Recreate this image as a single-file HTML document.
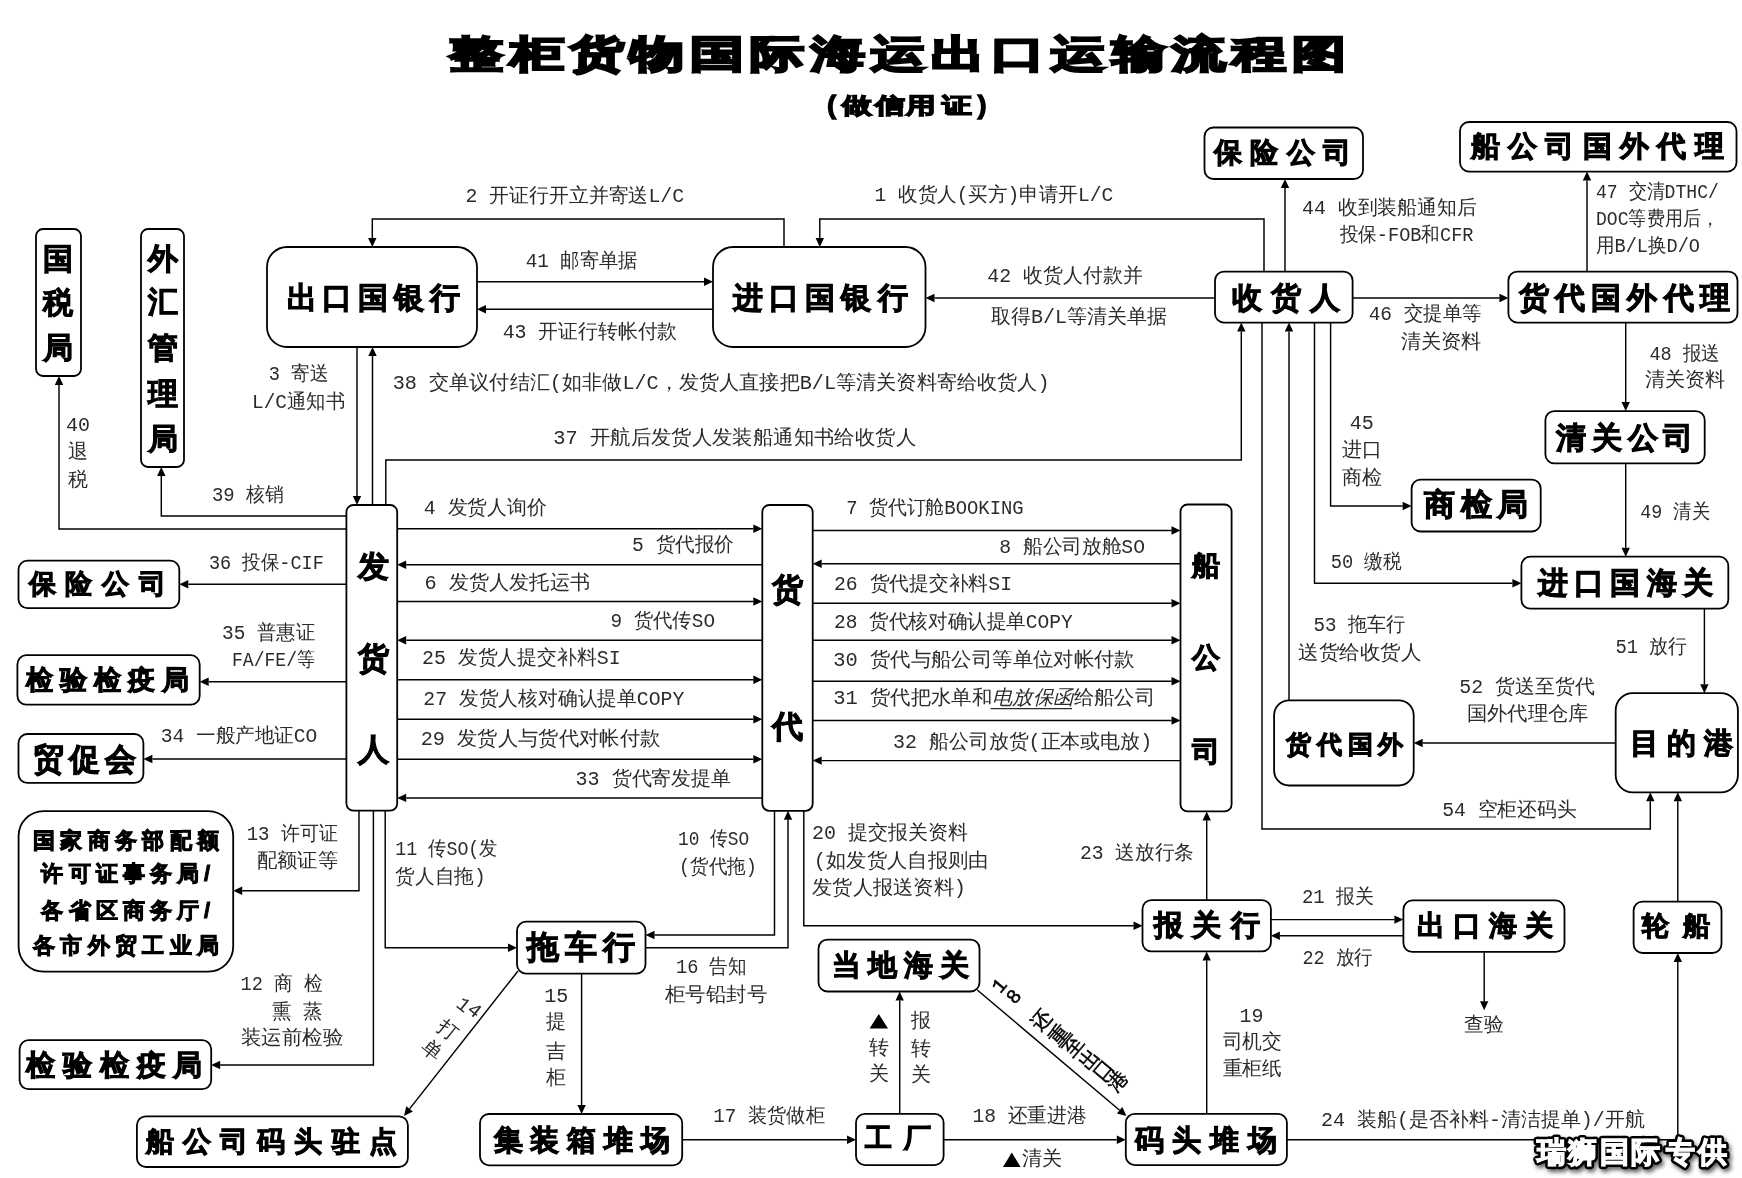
<!DOCTYPE html>
<html><head><meta charset="utf-8"><title>整柜货物国际海运出口运输流程图</title>
<style>
html,body{margin:0;padding:0;background:#fff;width:1742px;height:1178px;overflow:hidden}
svg{display:block;will-change:transform}
.box{fill:#fff;stroke:#000;stroke-width:1.8}
.ln{fill:none;stroke:#000;stroke-width:1.45;stroke-linejoin:miter;stroke-linecap:butt}
.ah{fill:#000;stroke:none}
.bx{font-family:"Liberation Sans",sans-serif;font-weight:bold;fill:#000;stroke:#000;stroke-width:1.0;text-anchor:middle;dominant-baseline:central}
.lb{font-family:"Liberation Mono",monospace;font-size:20px;fill:#2b2b2b;dominant-baseline:central}
.tt{font-family:"Liberation Sans",sans-serif;font-weight:bold;fill:#000;stroke:#000;stroke-width:0.8;dominant-baseline:central}
.wm{font-family:"Liberation Sans",sans-serif;font-weight:bold;fill:#fff;stroke:#fff;stroke-width:1.2;dominant-baseline:central}
.wmo{font-family:"Liberation Sans",sans-serif;font-weight:bold;fill:#000;stroke:#000;stroke-width:6.5;stroke-linejoin:round;dominant-baseline:central}
</style></head><body>
<svg width="1742" height="1178" viewBox="0 0 1742 1178">
<defs><filter id="wmf" x="-10%" y="-40%" width="125%" height="190%">
<feGaussianBlur in="SourceAlpha" stdDeviation="2" result="b"/>
<feOffset in="b" dx="1.5" dy="2.5" result="o"/>
<feFlood flood-color="#000" flood-opacity="0.6"/><feComposite in2="o" operator="in" result="sh"/>
<feMerge><feMergeNode in="sh"/><feMergeNode in="SourceGraphic"/></feMerge>
</filter></defs>
<rect x="36" y="229" width="45.0" height="147.0" rx="7" ry="7" class="box"/>
<text x="58" y="258.5" class="bx" font-size="30">国</text>
<text x="58" y="302" class="bx" font-size="30">税</text>
<text x="58" y="347.7" class="bx" font-size="30">局</text>
<rect x="141" y="229" width="43.0" height="238.0" rx="7" ry="7" class="box"/>
<text x="163" y="258" class="bx" font-size="30">外</text>
<text x="163" y="301.3" class="bx" font-size="30">汇</text>
<text x="163" y="347.7" class="bx" font-size="30">管</text>
<text x="163" y="393" class="bx" font-size="30">理</text>
<text x="163" y="438" class="bx" font-size="30">局</text>
<rect x="267" y="247" width="210.0" height="100.0" rx="20" ry="20" class="box"/>
<text x="301.5" y="297.0" class="bx" font-size="30">出</text><text x="337.2" y="297.0" class="bx" font-size="30">口</text><text x="373.0" y="297.0" class="bx" font-size="30">国</text><text x="408.8" y="297.0" class="bx" font-size="30">银</text><text x="444.5" y="297.0" class="bx" font-size="30">行</text>
<rect x="713" y="247" width="212.5" height="100.0" rx="20" ry="20" class="box"/>
<text x="747.5" y="297.0" class="bx" font-size="30">进</text><text x="783.8" y="297.0" class="bx" font-size="30">口</text><text x="820.0" y="297.0" class="bx" font-size="30">国</text><text x="856.2" y="297.0" class="bx" font-size="30">银</text><text x="892.5" y="297.0" class="bx" font-size="30">行</text>
<rect x="1204.5" y="127.5" width="158.5" height="51.5" rx="9" ry="9" class="box"/>
<text x="1227.6" y="152.4" class="bx" font-size="28">保</text><text x="1264.2" y="152.4" class="bx" font-size="28">险</text><text x="1300.8" y="152.4" class="bx" font-size="28">公</text><text x="1337.4" y="152.4" class="bx" font-size="28">司</text>
<rect x="1460" y="122" width="276.5" height="49.6" rx="9" ry="9" class="box"/>
<text x="1485.0" y="146.0" class="bx" font-size="29">船</text><text x="1522.4" y="146.0" class="bx" font-size="29">公</text><text x="1559.7" y="146.0" class="bx" font-size="29">司</text><text x="1597.0" y="146.0" class="bx" font-size="29">国</text><text x="1634.3" y="146.0" class="bx" font-size="29">外</text><text x="1671.6" y="146.0" class="bx" font-size="29">代</text><text x="1709.0" y="146.0" class="bx" font-size="29">理</text>
<rect x="1215" y="271.6" width="137.6" height="51.0" rx="9" ry="9" class="box"/>
<text x="1246.5" y="297.0" class="bx" font-size="30">收</text><text x="1285.5" y="297.0" class="bx" font-size="30">货</text><text x="1324.5" y="297.0" class="bx" font-size="30">人</text>
<rect x="1508.4" y="271.6" width="229.1" height="51.0" rx="9" ry="9" class="box"/>
<text x="1533.5" y="297.0" class="bx" font-size="30">货</text><text x="1569.8" y="297.0" class="bx" font-size="30">代</text><text x="1606.1" y="297.0" class="bx" font-size="30">国</text><text x="1642.3" y="297.0" class="bx" font-size="30">外</text><text x="1678.6" y="297.0" class="bx" font-size="30">代</text><text x="1714.9" y="297.0" class="bx" font-size="30">理</text>
<rect x="1545.4" y="411.1" width="159.3" height="52.3" rx="9" ry="9" class="box"/>
<text x="1571.3" y="437.5" class="bx" font-size="30">清</text><text x="1606.9" y="437.5" class="bx" font-size="30">关</text><text x="1642.5" y="437.5" class="bx" font-size="30">公</text><text x="1678.1" y="437.5" class="bx" font-size="30">司</text>
<rect x="1411.6" y="479.6" width="129.1" height="51.9" rx="9" ry="9" class="box"/>
<text x="1439.5" y="504.5" class="bx" font-size="31">商</text><text x="1476.2" y="504.5" class="bx" font-size="31">检</text><text x="1512.8" y="504.5" class="bx" font-size="31">局</text>
<rect x="1521.4" y="556.7" width="206.9" height="52.0" rx="9" ry="9" class="box"/>
<text x="1552.5" y="582.3" class="bx" font-size="30">进</text><text x="1589.0" y="582.3" class="bx" font-size="30">口</text><text x="1625.4" y="582.3" class="bx" font-size="30">国</text><text x="1661.8" y="582.3" class="bx" font-size="30">海</text><text x="1698.3" y="582.3" class="bx" font-size="30">关</text>
<rect x="1615.7" y="693.2" width="122.2" height="99.1" rx="17" ry="17" class="box"/>
<text x="1644.0" y="743.0" class="bx" font-size="29">目</text><text x="1681.0" y="743.0" class="bx" font-size="29">的</text><text x="1718.0" y="743.0" class="bx" font-size="29">港</text>
<rect x="1274.1" y="700.3" width="139.6" height="85.2" rx="15" ry="15" class="box"/>
<text x="1298.5" y="743.8" class="bx" font-size="25">货</text><text x="1329.3" y="743.8" class="bx" font-size="25">代</text><text x="1360.0" y="743.8" class="bx" font-size="25">国</text><text x="1390.8" y="743.8" class="bx" font-size="25">外</text>
<rect x="346.4" y="505" width="50.8" height="305.6" rx="7" ry="7" class="box"/>
<text x="373" y="566" class="bx" font-size="31">发</text>
<text x="373" y="658" class="bx" font-size="31">货</text>
<text x="373" y="749" class="bx" font-size="31">人</text>
<rect x="762.3" y="505" width="50.4" height="305.8" rx="7" ry="7" class="box"/>
<text x="787" y="589.5" class="bx" font-size="31">货</text>
<text x="787" y="726.5" class="bx" font-size="31">代</text>
<rect x="1180.5" y="504.5" width="51.1" height="306.9" rx="7" ry="7" class="box"/>
<text x="1206.3" y="565.8" class="bx" font-size="28">船</text>
<text x="1206.3" y="657.5" class="bx" font-size="28">公</text>
<text x="1206.3" y="751.4" class="bx" font-size="28">司</text>
<rect x="18.5" y="560.7" width="160.8" height="47.5" rx="9" ry="9" class="box"/>
<text x="42.1" y="584.2" class="bx" font-size="27">保</text><text x="78.8" y="584.2" class="bx" font-size="27">险</text><text x="115.6" y="584.2" class="bx" font-size="27">公</text><text x="152.2" y="584.2" class="bx" font-size="27">司</text>
<rect x="17.4" y="655.2" width="182.3" height="49.5" rx="9" ry="9" class="box"/>
<text x="39.1" y="680.4" class="bx" font-size="27">检</text><text x="73.2" y="680.4" class="bx" font-size="27">验</text><text x="107.2" y="680.4" class="bx" font-size="27">检</text><text x="141.2" y="680.4" class="bx" font-size="27">疫</text><text x="175.2" y="680.4" class="bx" font-size="27">局</text>
<rect x="18.5" y="734" width="124.9" height="48.9" rx="9" ry="9" class="box"/>
<text x="48.0" y="759.0" class="bx" font-size="31">贸</text><text x="84.2" y="759.0" class="bx" font-size="31">促</text><text x="120.5" y="759.0" class="bx" font-size="31">会</text>
<rect x="18.6" y="811.1" width="214.6" height="160.5" rx="25" ry="25" class="box"/>
<rect x="19.6" y="1040.2" width="191.6" height="49.0" rx="9" ry="9" class="box"/>
<text x="40.0" y="1064.7" class="bx" font-size="29">检</text><text x="77.0" y="1064.7" class="bx" font-size="29">验</text><text x="114.0" y="1064.7" class="bx" font-size="29">检</text><text x="151.0" y="1064.7" class="bx" font-size="29">疫</text><text x="187.9" y="1064.7" class="bx" font-size="29">局</text>
<rect x="136.9" y="1116.3" width="271.0" height="50.7" rx="9" ry="9" class="box"/>
<text x="159.6" y="1141.5" class="bx" font-size="28">船</text><text x="196.8" y="1141.5" class="bx" font-size="28">公</text><text x="234.0" y="1141.5" class="bx" font-size="28">司</text><text x="271.2" y="1141.5" class="bx" font-size="28">码</text><text x="308.4" y="1141.5" class="bx" font-size="28">头</text><text x="345.6" y="1141.5" class="bx" font-size="28">驻</text><text x="382.8" y="1141.5" class="bx" font-size="28">点</text>
<rect x="517" y="921.7" width="128.5" height="51.9" rx="9" ry="9" class="box"/>
<text x="543.4" y="947.0" class="bx" font-size="32">拖</text><text x="581.0" y="947.0" class="bx" font-size="32">车</text><text x="618.6" y="947.0" class="bx" font-size="32">行</text>
<rect x="818.5" y="939.6" width="161.0" height="51.9" rx="9" ry="9" class="box"/>
<text x="846.0" y="965.2" class="bx" font-size="29">当</text><text x="882.2" y="965.2" class="bx" font-size="29">地</text><text x="918.5" y="965.2" class="bx" font-size="29">海</text><text x="954.6" y="965.2" class="bx" font-size="29">关</text>
<rect x="480" y="1114" width="202.2" height="51.3" rx="9" ry="9" class="box"/>
<text x="508.1" y="1139.8" class="bx" font-size="29">集</text><text x="544.9" y="1139.8" class="bx" font-size="29">装</text><text x="581.6" y="1139.8" class="bx" font-size="29">箱</text><text x="618.5" y="1139.8" class="bx" font-size="29">堆</text><text x="655.2" y="1139.8" class="bx" font-size="29">场</text>
<rect x="856" y="1113.8" width="87.6" height="51.3" rx="9" ry="9" class="box"/>
<text x="878.8" y="1138.4" class="bx" font-size="27">工</text><text x="917.1" y="1138.4" class="bx" font-size="27">厂</text>
<rect x="1125.8" y="1113.8" width="161.1" height="51.3" rx="9" ry="9" class="box"/>
<text x="1149.0" y="1140.0" class="bx" font-size="29">码</text><text x="1186.9" y="1140.0" class="bx" font-size="29">头</text><text x="1224.8" y="1140.0" class="bx" font-size="29">堆</text><text x="1262.7" y="1140.0" class="bx" font-size="29">场</text>
<rect x="1142.5" y="900.1" width="128.4" height="51.3" rx="9" ry="9" class="box"/>
<text x="1168.0" y="925.1" class="bx" font-size="29">报</text><text x="1206.5" y="925.1" class="bx" font-size="29">关</text><text x="1245.0" y="925.1" class="bx" font-size="29">行</text>
<rect x="1403.4" y="900.4" width="161.1" height="51.5" rx="9" ry="9" class="box"/>
<text x="1430.6" y="925.2" class="bx" font-size="28">出</text><text x="1466.9" y="925.2" class="bx" font-size="28">口</text><text x="1503.1" y="925.2" class="bx" font-size="28">海</text><text x="1539.4" y="925.2" class="bx" font-size="28">关</text>
<rect x="1633.6" y="901.6" width="87.9" height="51.4" rx="9" ry="9" class="box"/>
<text x="1655.2" y="926.0" class="bx" font-size="27">轮</text><text x="1696.9" y="926.0" class="bx" font-size="27">船</text>
<text x="43.7" y="840.0" class="bx" font-size="22">国</text><text x="71.1" y="840.0" class="bx" font-size="22">家</text><text x="98.5" y="840.0" class="bx" font-size="22">商</text><text x="125.9" y="840.0" class="bx" font-size="22">务</text><text x="153.3" y="840.0" class="bx" font-size="22">部</text><text x="180.7" y="840.0" class="bx" font-size="22">配</text><text x="208.1" y="840.0" class="bx" font-size="22">额</text>
<text x="43.7" y="945.6" class="bx" font-size="22">各</text><text x="71.1" y="945.6" class="bx" font-size="22">市</text><text x="98.5" y="945.6" class="bx" font-size="22">外</text><text x="125.9" y="945.6" class="bx" font-size="22">贸</text><text x="153.3" y="945.6" class="bx" font-size="22">工</text><text x="180.7" y="945.6" class="bx" font-size="22">业</text><text x="208.1" y="945.6" class="bx" font-size="22">局</text>
<text x="52.4" y="873.5" class="bx" font-size="22">许</text>
<text x="79.5" y="873.5" class="bx" font-size="22">可</text>
<text x="106.7" y="873.5" class="bx" font-size="22">证</text>
<text x="133.8" y="873.5" class="bx" font-size="22">事</text>
<text x="161.0" y="873.5" class="bx" font-size="22">务</text>
<text x="188.2" y="873.5" class="bx" font-size="22">局</text>
<text x="207.0" y="873.5" class="bx" font-size="22">/</text>
<text x="52.4" y="910" class="bx" font-size="22">各</text>
<text x="79.5" y="910" class="bx" font-size="22">省</text>
<text x="106.7" y="910" class="bx" font-size="22">区</text>
<text x="133.8" y="910" class="bx" font-size="22">商</text>
<text x="161.0" y="910" class="bx" font-size="22">务</text>
<text x="188.2" y="910" class="bx" font-size="22">厅</text>
<text x="207.0" y="910" class="bx" font-size="22">/</text>
<polyline points="784.0,247.0 784.0,219.0 372.3,219.0 372.3,238.0" class="ln"/>
<polygon points="372.3,247.0 368.1,238.0 376.5,238.0" class="ah"/>
<polyline points="1264.0,272.0 1264.0,219.0 819.8,219.0 819.8,238.0" class="ln"/>
<polygon points="819.8,247.0 815.6,238.0 824.0,238.0" class="ah"/>
<polyline points="477.0,281.8 704.0,281.8" class="ln"/>
<polygon points="713.0,281.8 704.0,286.0 704.0,277.6" class="ah"/>
<polyline points="713.0,309.3 486.0,309.3" class="ln"/>
<polygon points="477.0,309.3 486.0,305.1 486.0,313.5" class="ah"/>
<polyline points="1215.0,298.0 934.5,298.0" class="ln"/>
<polygon points="925.5,298.0 934.5,293.8 934.5,302.2" class="ah"/>
<polyline points="1352.6,298.0 1499.4,298.0" class="ln"/>
<polygon points="1508.4,298.0 1499.4,302.2 1499.4,293.8" class="ah"/>
<polyline points="1285.0,271.6 1285.0,188.0" class="ln"/>
<polygon points="1285.0,179.0 1289.2,188.0 1280.8,188.0" class="ah"/>
<polyline points="1587.0,271.6 1587.0,180.6" class="ln"/>
<polygon points="1587.0,171.6 1591.2,180.6 1582.8,180.6" class="ah"/>
<polyline points="1625.7,322.6 1625.7,402.1" class="ln"/>
<polygon points="1625.7,411.1 1621.5,402.1 1629.9,402.1" class="ah"/>
<polyline points="1625.7,463.4 1625.7,547.7" class="ln"/>
<polygon points="1625.7,556.7 1621.5,547.7 1629.9,547.7" class="ah"/>
<polyline points="1330.6,322.6 1330.6,506.0 1402.6,506.0" class="ln"/>
<polygon points="1411.6,506.0 1402.6,510.2 1402.6,501.8" class="ah"/>
<polyline points="1314.5,322.6 1314.5,583.2 1512.4,583.2" class="ln"/>
<polygon points="1521.4,583.2 1512.4,587.4 1512.4,579.0" class="ah"/>
<polyline points="1289.0,700.3 1289.0,331.6" class="ln"/>
<polygon points="1289.0,322.6 1293.2,331.6 1284.8,331.6" class="ah"/>
<polyline points="1262.0,322.6 1262.0,829.0 1650.3,829.0 1650.3,801.3" class="ln"/>
<polygon points="1650.3,792.3 1654.5,801.3 1646.1,801.3" class="ah"/>
<polyline points="385.8,505.0 385.8,460.0 1241.3,460.0 1241.3,331.6" class="ln"/>
<polygon points="1241.3,322.6 1245.5,331.6 1237.1,331.6" class="ah"/>
<polyline points="1704.4,608.7 1704.4,684.2" class="ln"/>
<polygon points="1704.4,693.2 1700.2,684.2 1708.6,684.2" class="ah"/>
<polyline points="1615.7,743.0 1422.7,743.0" class="ln"/>
<polygon points="1413.7,743.0 1422.7,738.8 1422.7,747.2" class="ah"/>
<polyline points="1677.8,901.6 1677.8,801.3" class="ln"/>
<polygon points="1677.8,792.3 1682.0,801.3 1673.6,801.3" class="ah"/>
<polyline points="1286.9,1139.8 1677.8,1139.8 1677.8,962.0" class="ln"/>
<polygon points="1677.8,953.0 1682.0,962.0 1673.6,962.0" class="ah"/>
<polyline points="357.0,347.0 357.0,496.0" class="ln"/>
<polygon points="357.0,505.0 352.8,496.0 361.2,496.0" class="ah"/>
<polyline points="372.5,505.0 372.5,356.0" class="ln"/>
<polygon points="372.5,347.0 376.7,356.0 368.3,356.0" class="ah"/>
<polyline points="346.4,529.0 59.0,529.0 59.0,385.0" class="ln"/>
<polygon points="59.0,376.0 63.2,385.0 54.8,385.0" class="ah"/>
<polyline points="346.4,516.0 161.3,516.0 161.3,476.0" class="ln"/>
<polygon points="161.3,467.0 165.5,476.0 157.1,476.0" class="ah"/>
<polyline points="346.4,584.3 188.3,584.3" class="ln"/>
<polygon points="179.3,584.3 188.3,580.1 188.3,588.5" class="ah"/>
<polyline points="346.4,681.8 208.7,681.8" class="ln"/>
<polygon points="199.7,681.8 208.7,677.6 208.7,686.0" class="ah"/>
<polyline points="346.4,759.0 152.4,759.0" class="ln"/>
<polygon points="143.4,759.0 152.4,754.8 152.4,763.2" class="ah"/>
<polyline points="359.0,810.6 359.0,890.8 242.2,890.8" class="ln"/>
<polygon points="233.2,890.8 242.2,886.6 242.2,895.0" class="ah"/>
<polyline points="373.4,810.6 373.4,1065.0 220.2,1065.0" class="ln"/>
<polygon points="211.2,1065.0 220.2,1060.8 220.2,1069.2" class="ah"/>
<polyline points="385.2,810.6 385.2,947.8 508.0,947.8" class="ln"/>
<polygon points="517.0,947.8 508.0,952.0 508.0,943.6" class="ah"/>
<polyline points="397.2,528.8 753.3,528.8" class="ln"/>
<polygon points="762.3,528.8 753.3,533.0 753.3,524.6" class="ah"/>
<polyline points="762.3,564.8 406.2,564.8" class="ln"/>
<polygon points="397.2,564.8 406.2,560.6 406.2,569.0" class="ah"/>
<polyline points="397.2,601.5 753.3,601.5" class="ln"/>
<polygon points="762.3,601.5 753.3,605.7 753.3,597.3" class="ah"/>
<polyline points="762.3,640.2 406.2,640.2" class="ln"/>
<polygon points="397.2,640.2 406.2,636.0 406.2,644.4" class="ah"/>
<polyline points="397.2,679.7 753.3,679.7" class="ln"/>
<polygon points="762.3,679.7 753.3,683.9 753.3,675.5" class="ah"/>
<polyline points="397.2,719.3 753.3,719.3" class="ln"/>
<polygon points="762.3,719.3 753.3,723.5 753.3,715.1" class="ah"/>
<polyline points="397.2,759.2 753.3,759.2" class="ln"/>
<polygon points="762.3,759.2 753.3,763.4 753.3,755.0" class="ah"/>
<polyline points="762.3,797.9 406.2,797.9" class="ln"/>
<polygon points="397.2,797.9 406.2,793.7 406.2,802.1" class="ah"/>
<polyline points="812.7,530.5 1171.5,530.5" class="ln"/>
<polygon points="1180.5,530.5 1171.5,534.7 1171.5,526.3" class="ah"/>
<polyline points="1180.5,563.7 821.7,563.7" class="ln"/>
<polygon points="812.7,563.7 821.7,559.5 821.7,567.9" class="ah"/>
<polyline points="812.7,603.3 1171.5,603.3" class="ln"/>
<polygon points="1180.5,603.3 1171.5,607.5 1171.5,599.1" class="ah"/>
<polyline points="812.7,640.2 1171.5,640.2" class="ln"/>
<polygon points="1180.5,640.2 1171.5,644.4 1171.5,636.0" class="ah"/>
<polyline points="812.7,681.2 1171.5,681.2" class="ln"/>
<polygon points="1180.5,681.2 1171.5,685.4 1171.5,677.0" class="ah"/>
<polyline points="812.7,720.5 1171.5,720.5" class="ln"/>
<polygon points="1180.5,720.5 1171.5,724.7 1171.5,716.3" class="ah"/>
<polyline points="1180.5,760.6 821.7,760.6" class="ln"/>
<polygon points="812.7,760.6 821.7,756.4 821.7,764.8" class="ah"/>
<polyline points="774.5,810.8 774.5,935.0 654.5,935.0" class="ln"/>
<polygon points="645.5,935.0 654.5,930.8 654.5,939.2" class="ah"/>
<polyline points="645.5,947.8 788.0,947.8 788.0,819.8" class="ln"/>
<polygon points="788.0,810.8 792.2,819.8 783.8,819.8" class="ah"/>
<polyline points="803.8,810.8 803.8,925.8 1133.5,925.8" class="ln"/>
<polygon points="1142.5,925.8 1133.5,930.0 1133.5,921.6" class="ah"/>
<polyline points="1206.7,900.1 1206.7,820.4" class="ln"/>
<polygon points="1206.7,811.4 1210.9,820.4 1202.5,820.4" class="ah"/>
<polyline points="1206.7,1113.8 1206.7,960.4" class="ln"/>
<polygon points="1206.7,951.4 1210.9,960.4 1202.5,960.4" class="ah"/>
<polyline points="1270.9,919.6 1394.4,919.6" class="ln"/>
<polygon points="1403.4,919.6 1394.4,923.8 1394.4,915.4" class="ah"/>
<polyline points="1403.4,935.7 1279.9,935.7" class="ln"/>
<polygon points="1270.9,935.7 1279.9,931.5 1279.9,939.9" class="ah"/>
<polyline points="1484.2,951.9 1484.2,1001.3" class="ln"/>
<polygon points="1484.2,1010.3 1480.0,1001.3 1488.4,1001.3" class="ah"/>
<polyline points="581.6,973.6 581.6,1105.0" class="ln"/>
<polygon points="581.6,1114.0 577.4,1105.0 585.8,1105.0" class="ah"/>
<polyline points="518.0,971.0 409.6,1108.9" class="ln"/>
<polygon points="404.0,1116.0 406.3,1106.3 412.9,1111.5" class="ah"/>
<polyline points="682.2,1139.8 847.0,1139.8" class="ln"/>
<polygon points="856.0,1139.8 847.0,1144.0 847.0,1135.6" class="ah"/>
<polyline points="943.6,1139.8 1116.8,1139.8" class="ln"/>
<polygon points="1125.8,1139.8 1116.8,1144.0 1116.8,1135.6" class="ah"/>
<polyline points="899.7,1113.8 899.7,1000.5" class="ln"/>
<polygon points="899.7,991.5 903.9,1000.5 895.5,1000.5" class="ah"/>
<polyline points="977.3,990.0 1119.6,1110.2" class="ln"/>
<polygon points="1126.5,1116.0 1116.9,1113.4 1122.3,1107.0" class="ah"/>
<text x="465.4" y="196" class="lb" textLength="218.8" lengthAdjust="spacingAndGlyphs">2 开证行开立并寄送L/C</text>
<text x="874.5" y="195" class="lb" textLength="238.7" lengthAdjust="spacingAndGlyphs">1 收货人(买方)申请开L/C</text>
<text x="525.7" y="261.8" class="lb" textLength="112.0" lengthAdjust="spacingAndGlyphs">41 邮寄单据</text>
<text x="502.7" y="332.4" class="lb" textLength="174.6" lengthAdjust="spacingAndGlyphs">43 开证行转帐付款</text>
<text x="987.2" y="276" class="lb" textLength="155.3" lengthAdjust="spacingAndGlyphs">42 收货人付款并</text>
<text x="991" y="317.4" class="lb" textLength="175.7" lengthAdjust="spacingAndGlyphs">取得B/L等清关单据</text>
<text x="1302" y="208" class="lb" textLength="174.8" lengthAdjust="spacingAndGlyphs">44 收到装船通知后</text>
<text x="1339.7" y="235.5" class="lb" textLength="133.8" lengthAdjust="spacingAndGlyphs">投保-FOB和CFR</text>
<text x="1596" y="192" class="lb" textLength="122.8" lengthAdjust="spacingAndGlyphs">47 交清DTHC/</text>
<text x="1596" y="219.4" class="lb" textLength="122.7" lengthAdjust="spacingAndGlyphs">DOC等费用后，</text>
<text x="1596" y="246.8" class="lb" textLength="104.0" lengthAdjust="spacingAndGlyphs">用B/L换D/O</text>
<text x="1368.7" y="314.5" class="lb" textLength="112.9" lengthAdjust="spacingAndGlyphs">46 交提单等</text>
<text x="1401" y="342" class="lb" textLength="80.6" lengthAdjust="spacingAndGlyphs">清关资料</text>
<text x="1649.4" y="354.8" class="lb" textLength="70.6" lengthAdjust="spacingAndGlyphs">48 报送</text>
<text x="1644.5" y="380.6" class="lb" textLength="80.5" lengthAdjust="spacingAndGlyphs">清关资料</text>
<text x="268.7" y="374.4" class="lb" textLength="59.8" lengthAdjust="spacingAndGlyphs">3 寄送</text>
<text x="252" y="402.4" class="lb" textLength="93.0" lengthAdjust="spacingAndGlyphs">L/C通知书</text>
<text x="392.7" y="383.3" class="lb" textLength="656.9" lengthAdjust="spacingAndGlyphs">38 交单议付结汇(如非做L/C，发货人直接把B/L等清关资料寄给收货人)</text>
<text x="553.2" y="438" class="lb" textLength="362.7" lengthAdjust="spacingAndGlyphs">37 开航后发货人发装船通知书给收货人</text>
<text x="211.9" y="495" class="lb" textLength="72.0" lengthAdjust="spacingAndGlyphs">39 核销</text>
<text x="209" y="563" class="lb" textLength="114.8" lengthAdjust="spacingAndGlyphs">36 投保-CIF</text>
<text x="222" y="633.5" class="lb" textLength="93.0" lengthAdjust="spacingAndGlyphs">35 普惠证</text>
<text x="232" y="660" class="lb" textLength="83.0" lengthAdjust="spacingAndGlyphs">FA/FE/等</text>
<text x="160.8" y="736.7" class="lb" textLength="156.5" lengthAdjust="spacingAndGlyphs">34 一般产地证CO</text>
<text x="246.7" y="834" class="lb" textLength="91.3" lengthAdjust="spacingAndGlyphs">13 许可证</text>
<text x="256.8" y="861" class="lb" textLength="81.2" lengthAdjust="spacingAndGlyphs">配额证等</text>
<text x="240.6" y="984.5" class="lb" textLength="82.1" lengthAdjust="spacingAndGlyphs">12 商 检</text>
<text x="272" y="1012" class="lb" textLength="50.7" lengthAdjust="spacingAndGlyphs">熏 蒸</text>
<text x="240.6" y="1038.5" class="lb" textLength="102.4" lengthAdjust="spacingAndGlyphs">装运前检验</text>
<text x="423.8" y="508" class="lb" textLength="123.0" lengthAdjust="spacingAndGlyphs">4 发货人询价</text>
<text x="632" y="545" class="lb" textLength="102.0" lengthAdjust="spacingAndGlyphs">5 货代报价</text>
<text x="424.6" y="583.2" class="lb" textLength="165.4" lengthAdjust="spacingAndGlyphs">6 发货人发托运书</text>
<text x="610.5" y="621.4" class="lb" textLength="104.5" lengthAdjust="spacingAndGlyphs">9 货代传SO</text>
<text x="422" y="658" class="lb" textLength="198.6" lengthAdjust="spacingAndGlyphs">25 发货人提交补料SI</text>
<text x="423.3" y="699.8" class="lb" textLength="261.0" lengthAdjust="spacingAndGlyphs">27 发货人核对确认提单COPY</text>
<text x="420.7" y="739.5" class="lb" textLength="239.4" lengthAdjust="spacingAndGlyphs">29 发货人与货代对帐付款</text>
<text x="575.6" y="779.5" class="lb" textLength="155.8" lengthAdjust="spacingAndGlyphs">33 货代寄发提单</text>
<text x="846.2" y="508.3" class="lb" textLength="177.5" lengthAdjust="spacingAndGlyphs">7 货代订舱BOOKING</text>
<text x="999.2" y="547" class="lb" textLength="145.8" lengthAdjust="spacingAndGlyphs">8 船公司放舱SO</text>
<text x="834" y="584" class="lb" textLength="178.0" lengthAdjust="spacingAndGlyphs">26 货代提交补料SI</text>
<text x="834" y="622" class="lb" textLength="238.8" lengthAdjust="spacingAndGlyphs">28 货代核对确认提单COPY</text>
<text x="833.2" y="660.4" class="lb" textLength="301.7" lengthAdjust="spacingAndGlyphs">30 货代与船公司等单位对帐付款</text>
<text x="833.2" y="698" class="lb" textLength="321.8" lengthAdjust="spacingAndGlyphs">31 货代把水单和<tspan style="font-style:italic">电放保函</tspan>给船公司</text>
<text x="893" y="742.7" class="lb" textLength="259.2" lengthAdjust="spacingAndGlyphs">32 船公司放货(正本或电放)</text>
<text x="395.3" y="849.6" class="lb" textLength="102.3" lengthAdjust="spacingAndGlyphs">11 传SO(发</text>
<text x="395.3" y="877.6" class="lb" textLength="90.4" lengthAdjust="spacingAndGlyphs">货人自拖)</text>
<text x="678" y="839.4" class="lb" textLength="71.2" lengthAdjust="spacingAndGlyphs">10 传SO</text>
<text x="679" y="867.4" class="lb" textLength="77.9" lengthAdjust="spacingAndGlyphs">(货代拖)</text>
<text x="676" y="967.3" class="lb" textLength="70.7" lengthAdjust="spacingAndGlyphs">16 告知</text>
<text x="664.5" y="995" class="lb" textLength="102.5" lengthAdjust="spacingAndGlyphs">柜号铅封号</text>
<text x="713.3" y="1116.5" class="lb" textLength="111.7" lengthAdjust="spacingAndGlyphs">17 装货做柜</text>
<text x="812" y="833.7" class="lb" textLength="155.7" lengthAdjust="spacingAndGlyphs">20 提交报关资料</text>
<text x="813.7" y="861.6" class="lb" textLength="174.8" lengthAdjust="spacingAndGlyphs">(如发货人自报则由</text>
<text x="812" y="888.2" class="lb" textLength="154.0" lengthAdjust="spacingAndGlyphs">发货人报送资料)</text>
<text x="1080" y="853" class="lb" textLength="113.9" lengthAdjust="spacingAndGlyphs">23 送放行条</text>
<text x="1222.7" y="1042.2" class="lb" textLength="59.3" lengthAdjust="spacingAndGlyphs">司机交</text>
<text x="1222.7" y="1069.5" class="lb" textLength="59.3" lengthAdjust="spacingAndGlyphs">重柜纸</text>
<text x="972.5" y="1116" class="lb" textLength="113.9" lengthAdjust="spacingAndGlyphs">18 还重进港</text>
<text x="1022" y="1159.3" class="lb" textLength="40.3" lengthAdjust="spacingAndGlyphs">清关</text>
<text x="1302" y="897.5" class="lb" textLength="72.0" lengthAdjust="spacingAndGlyphs">21 报关</text>
<text x="1302.5" y="958" class="lb" textLength="70.3" lengthAdjust="spacingAndGlyphs">22 放行</text>
<text x="1464.4" y="1025.4" class="lb" textLength="39.6" lengthAdjust="spacingAndGlyphs">查验</text>
<text x="1321.1" y="1120.4" class="lb" textLength="323.6" lengthAdjust="spacingAndGlyphs">24 装船(是否补料-清洁提单)/开航</text>
<text x="1330.7" y="562" class="lb" textLength="71.3" lengthAdjust="spacingAndGlyphs">50 缴税</text>
<text x="1640.3" y="512.2" class="lb" textLength="69.7" lengthAdjust="spacingAndGlyphs">49 清关</text>
<text x="1615.4" y="647" class="lb" textLength="71.6" lengthAdjust="spacingAndGlyphs">51 放行</text>
<text x="1313.6" y="625.8" class="lb" textLength="91.8" lengthAdjust="spacingAndGlyphs">53 拖车行</text>
<text x="1298" y="653.8" class="lb" textLength="123.5" lengthAdjust="spacingAndGlyphs">送货给收货人</text>
<text x="1459.3" y="687" class="lb" textLength="135.2" lengthAdjust="spacingAndGlyphs">52 货送至货代</text>
<text x="1466.6" y="714.4" class="lb" textLength="122.0" lengthAdjust="spacingAndGlyphs">国外代理仓库</text>
<text x="1442.2" y="810.5" class="lb" textLength="134.1" lengthAdjust="spacingAndGlyphs">54 空柜还码头</text>
<line x1="990.6" y1="708.6" x2="1072" y2="708.6" stroke="#2b2b2b" stroke-width="1.1"/>
<text x="78" y="425" class="lb" text-anchor="middle">40</text>
<text x="78" y="452" class="lb" text-anchor="middle">退</text>
<text x="78" y="480" class="lb" text-anchor="middle">税</text>
<text x="556.3" y="996.3" class="lb" text-anchor="middle">15</text>
<text x="556.3" y="1022.9" class="lb" text-anchor="middle">提</text>
<text x="556.3" y="1052" class="lb" text-anchor="middle">吉</text>
<text x="556.3" y="1078.5" class="lb" text-anchor="middle">柜</text>
<text x="1251.6" y="1016.6" class="lb" text-anchor="middle">19</text>
<text x="878.8" y="1048.6" class="lb" text-anchor="middle">转</text>
<text x="878.8" y="1074.3" class="lb" text-anchor="middle">关</text>
<text x="921.2" y="1021.4" class="lb" text-anchor="middle">报</text>
<text x="921.2" y="1049.6" class="lb" text-anchor="middle">转</text>
<text x="921.2" y="1075.9" class="lb" text-anchor="middle">关</text>
<text x="1361.8" y="423.6" class="lb" text-anchor="middle">45</text>
<text x="1361.8" y="450" class="lb" text-anchor="middle">进口</text>
<text x="1361.8" y="478" class="lb" text-anchor="middle">商检</text>
<polygon points="878.8,1014 888,1028.4 869.6,1028.4" class="ah"/>
<polygon points="1011.8,1152.5 1020.6,1167 1003,1167" class="ah"/>
<text x="0" y="0" class="lb" text-anchor="middle" transform="translate(463.0,1005.3) rotate(38.4)">1</text>
<text x="0" y="0" class="lb" text-anchor="middle" transform="translate(474.0,1011.0) rotate(38.4)">4</text>
<text x="0" y="0" class="lb" text-anchor="middle" transform="translate(447.3,1030.7) rotate(38.4)">打</text>
<text x="0" y="0" class="lb" text-anchor="middle" transform="translate(431.0,1051.0) rotate(38.4)">单</text>
<text x="0" y="0" class="lb" text-anchor="middle" style="fill:#000;stroke:#000;stroke-width:0.5" transform="translate(999.9,986.1) rotate(-49.8)">1</text>
<text x="0" y="0" class="lb" text-anchor="middle" style="fill:#000;stroke:#000;stroke-width:0.5" transform="translate(1014.3,997.2) rotate(-49.8)">8</text>
<text x="0" y="0" class="lb" text-anchor="middle" style="fill:#000;stroke:#000;stroke-width:0.5" transform="translate(1042.5,1021.0) rotate(-49.8)">还</text>
<text x="0" y="0" class="lb" text-anchor="middle" style="fill:#000;stroke:#000;stroke-width:0.5" transform="translate(1059.8,1036.0) rotate(-49.8)">重</text>
<text x="0" y="0" class="lb" text-anchor="middle" style="fill:#000;stroke:#000;stroke-width:0.5" transform="translate(1074.6,1047.3) rotate(-49.8)">至</text>
<text x="0" y="0" class="lb" text-anchor="middle" style="fill:#000;stroke:#000;stroke-width:0.5" transform="translate(1090.0,1059.8) rotate(-49.8)">出</text>
<text x="0" y="0" class="lb" text-anchor="middle" style="fill:#000;stroke:#000;stroke-width:0.5" transform="translate(1103.8,1070.5) rotate(-49.8)">口</text>
<text x="0" y="0" class="lb" text-anchor="middle" style="fill:#000;stroke:#000;stroke-width:0.5" transform="translate(1118.6,1081.8) rotate(-49.8)">港</text>
<text x="0" y="0" class="tt" style="stroke-width:2.4" font-size="38" text-anchor="middle" transform="translate(476.5,53.8) scale(1.42,1)">整</text><text x="0" y="0" class="tt" style="stroke-width:2.4" font-size="38" text-anchor="middle" transform="translate(536.7,53.8) scale(1.42,1)">柜</text><text x="0" y="0" class="tt" style="stroke-width:2.4" font-size="38" text-anchor="middle" transform="translate(596.9,53.8) scale(1.42,1)">货</text><text x="0" y="0" class="tt" style="stroke-width:2.4" font-size="38" text-anchor="middle" transform="translate(657.1,53.8) scale(1.42,1)">物</text><text x="0" y="0" class="tt" style="stroke-width:2.4" font-size="38" text-anchor="middle" transform="translate(717.4,53.8) scale(1.42,1)">国</text><text x="0" y="0" class="tt" style="stroke-width:2.4" font-size="38" text-anchor="middle" transform="translate(777.6,53.8) scale(1.42,1)">际</text><text x="0" y="0" class="tt" style="stroke-width:2.4" font-size="38" text-anchor="middle" transform="translate(837.8,53.8) scale(1.42,1)">海</text><text x="0" y="0" class="tt" style="stroke-width:2.4" font-size="38" text-anchor="middle" transform="translate(898.0,53.8) scale(1.42,1)">运</text><text x="0" y="0" class="tt" style="stroke-width:2.4" font-size="38" text-anchor="middle" transform="translate(958.2,53.8) scale(1.42,1)">出</text><text x="0" y="0" class="tt" style="stroke-width:2.4" font-size="38" text-anchor="middle" transform="translate(1018.4,53.8) scale(1.42,1)">口</text><text x="0" y="0" class="tt" style="stroke-width:2.4" font-size="38" text-anchor="middle" transform="translate(1078.6,53.8) scale(1.42,1)">运</text><text x="0" y="0" class="tt" style="stroke-width:2.4" font-size="38" text-anchor="middle" transform="translate(1138.9,53.8) scale(1.42,1)">输</text><text x="0" y="0" class="tt" style="stroke-width:2.4" font-size="38" text-anchor="middle" transform="translate(1199.1,53.8) scale(1.42,1)">流</text><text x="0" y="0" class="tt" style="stroke-width:2.4" font-size="38" text-anchor="middle" transform="translate(1259.3,53.8) scale(1.42,1)">程</text><text x="0" y="0" class="tt" style="stroke-width:2.4" font-size="38" text-anchor="middle" transform="translate(1319.5,53.8) scale(1.42,1)">图</text>
<text x="0" y="0" class="tt" style="stroke-width:1.4" font-size="26" text-anchor="middle" transform="translate(831.5,105.3) scale(1.0,1)">(</text>
<text x="0" y="0" class="tt" style="stroke-width:1.4" font-size="22" text-anchor="middle" transform="translate(856.3,105.3) scale(1.35,1)">做</text>
<text x="0" y="0" class="tt" style="stroke-width:1.4" font-size="22" text-anchor="middle" transform="translate(889.4,105.3) scale(1.35,1)">信</text>
<text x="0" y="0" class="tt" style="stroke-width:1.4" font-size="22" text-anchor="middle" transform="translate(921,105.3) scale(1.35,1)">用</text>
<text x="0" y="0" class="tt" style="stroke-width:1.4" font-size="22" text-anchor="middle" transform="translate(956.4,105.3) scale(1.35,1)">证</text>
<text x="0" y="0" class="tt" style="stroke-width:1.4" font-size="26" text-anchor="middle" transform="translate(982,105.3) scale(1.0,1)">)</text>
<g filter="url(#wmf)"><text x="1551.8" y="1151.5" class="wmo" font-size="29" text-anchor="middle">瑞</text><text x="1582.4" y="1151.5" class="wmo" font-size="29" text-anchor="middle">狮</text><text x="1614.3" y="1151.5" class="wmo" font-size="29" text-anchor="middle">国</text><text x="1645.1" y="1151.5" class="wmo" font-size="29" text-anchor="middle">际</text><text x="1680.5" y="1151.5" class="wmo" font-size="29" text-anchor="middle">专</text><text x="1712.4" y="1151.5" class="wmo" font-size="29" text-anchor="middle">供</text></g><g><text x="1551.8" y="1151.5" class="wm" font-size="29" text-anchor="middle">瑞</text><text x="1582.4" y="1151.5" class="wm" font-size="29" text-anchor="middle">狮</text><text x="1614.3" y="1151.5" class="wm" font-size="29" text-anchor="middle">国</text><text x="1645.1" y="1151.5" class="wm" font-size="29" text-anchor="middle">际</text><text x="1680.5" y="1151.5" class="wm" font-size="29" text-anchor="middle">专</text><text x="1712.4" y="1151.5" class="wm" font-size="29" text-anchor="middle">供</text></g>
</svg>
</body></html>
